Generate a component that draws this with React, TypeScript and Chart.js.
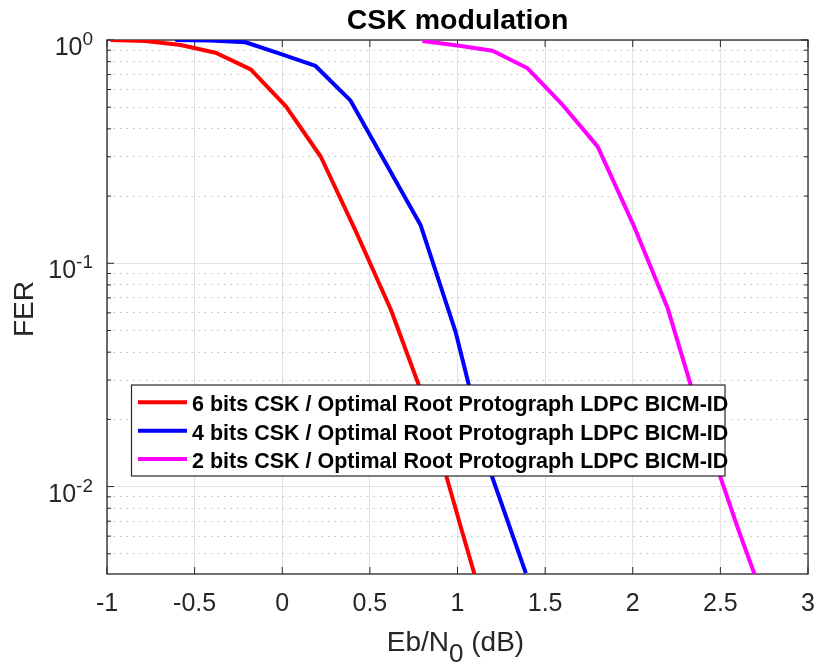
import React, { useEffect, useRef } from 'react';
import { Chart, registerables } from 'chart.js';

Chart.register(...registerables);

const TITLE = 'CSK modulation';
const X_TITLE_MAIN = 'Eb/N';
const X_TITLE_SUB = '0';
const X_TITLE_END = ' (dB)';
const Y_TITLE = 'FER';

const SERIES_LABELS = [
  '6 bits CSK / Optimal Root Protograph LDPC BICM-ID',
  '4 bits CSK / Optimal Root Protograph LDPC BICM-ID',
  '2 bits CSK / Optimal Root Protograph LDPC BICM-ID',
];
const SERIES_COLORS = ['#ff0000', '#0000ff', '#ff00ff'];

const X_MIN = -1;
const X_MAX = 3;
const Y_MIN = 0.00406;
const Y_MAX = 1;

const X_TICKS = [-1, -0.5, 0, 0.5, 1, 1.5, 2, 2.5, 3];
const X_TICK_LABELS = ['-1', '-0.5', '0', '0.5', '1', '1.5', '2', '2.5', '3'];
const Y_MAJOR_TICKS = [1, 0.1, 0.01];
const Y_MAJOR_EXPONENTS = ['0', '-1', '-2'];
const Y_MINOR_TICKS = [
  0.9, 0.8, 0.7, 0.6, 0.5, 0.4, 0.3, 0.2,
  0.09, 0.08, 0.07, 0.06, 0.05, 0.04, 0.03, 0.02,
  0.009, 0.008, 0.007, 0.006, 0.005,
];

// 6 bits CSK
const csk6X = [-0.98, -0.78, -0.58, -0.38, -0.18, 0.02, 0.22, 0.42, 0.62, 0.82, 1.02, 1.22];
const csk6Y = [1.0, 0.99, 0.95, 0.877, 0.739, 0.506, 0.300, 0.139, 0.0619, 0.0233, 0.00654, 0.00188];

// 4 bits CSK
const csk4X = [-0.61, -0.41, -0.21, -0.01, 0.19, 0.39, 0.59, 0.79, 0.99, 1.19, 1.39];
const csk4Y = [1.0, 0.995, 0.977, 0.866, 0.765, 0.535, 0.281, 0.148, 0.049, 0.0115, 0.0041];

// 2 bits CSK
const csk2X = [0.8, 1.0, 1.2, 1.4, 1.6, 1.8, 2.0, 2.2, 2.4, 2.6, 2.8];
const csk2Y = [0.99, 0.945, 0.895, 0.747, 0.512, 0.333, 0.151, 0.0627, 0.0188, 0.0065, 0.0024];

const SERIES_X = [csk6X, csk4X, csk2X];
const SERIES_Y = [csk6Y, csk4Y, csk2Y];

const FONT = '"Liberation Sans", Arial, Helvetica, sans-serif';
const TEXT_COLOR = '#262626';

const decorPlugin = {
  id: 'matlabDecor',
  beforeDatasetsDraw(chart: any) {
    const { ctx, chartArea: a, scales } = chart;
    const xs = scales.x;
    const ys = scales.y;
    ctx.save();
    ctx.strokeStyle = TEXT_COLOR;
    ctx.lineWidth = 1;
    ctx.beginPath();
    for (const v of X_TICKS) {
      const px = xs.getPixelForValue(v);
      ctx.moveTo(px, a.bottom);
      ctx.lineTo(px, a.bottom - 7);
      ctx.moveTo(px, a.top);
      ctx.lineTo(px, a.top + 7);
    }
    for (const v of Y_MAJOR_TICKS) {
      const py = ys.getPixelForValue(v);
      ctx.moveTo(a.left, py);
      ctx.lineTo(a.left + 7, py);
      ctx.moveTo(a.right, py);
      ctx.lineTo(a.right - 7, py);
    }
    for (const v of Y_MINOR_TICKS) {
      const py = ys.getPixelForValue(v);
      ctx.moveTo(a.left, py);
      ctx.lineTo(a.left + 4, py);
      ctx.moveTo(a.right, py);
      ctx.lineTo(a.right - 4, py);
    }
    ctx.stroke();
    ctx.lineWidth = 1.3;
    ctx.strokeRect(a.left, a.top, a.right - a.left, a.bottom - a.top);
    ctx.restore();
  },
  afterDraw(chart: any) {
    const { ctx, chartArea: a, scales } = chart;
    const xs = scales.x;
    const ys = scales.y;
    const cx = (a.left + a.right) / 2;
    ctx.save();

    // Title
    ctx.fillStyle = '#000';
    ctx.font = `bold 28.5px ${FONT}`;
    ctx.textAlign = 'center';
    ctx.textBaseline = 'alphabetic';
    ctx.fillText(TITLE, cx, 29);

    // X tick labels
    ctx.fillStyle = TEXT_COLOR;
    ctx.font = `25px ${FONT}`;
    X_TICKS.forEach((v, i) => {
      ctx.fillText(X_TICK_LABELS[i], xs.getPixelForValue(v), a.bottom + 37);
    });

    // Y tick labels 10^n
    ctx.textAlign = 'right';
    Y_MAJOR_TICKS.forEach((v, i) => {
      const py = ys.getPixelForValue(v);
      const rx = a.left - 14;
      ctx.font = `19px ${FONT}`;
      const wSup = ctx.measureText(Y_MAJOR_EXPONENTS[i]).width;
      ctx.fillText(Y_MAJOR_EXPONENTS[i], rx, py + 5);
      ctx.font = `25px ${FONT}`;
      ctx.fillText('10', rx - wSup, py + 15);
    });

    // X title with subscript
    ctx.textAlign = 'left';
    ctx.font = `28px ${FONT}`;
    const w1 = ctx.measureText(X_TITLE_MAIN).width;
    const w3 = ctx.measureText(X_TITLE_END).width;
    ctx.font = `26px ${FONT}`;
    const w2 = ctx.measureText(X_TITLE_SUB).width;
    const total = w1 + w2 + w3;
    const sx = cx - 2 - total / 2;
    const base = 651;
    ctx.font = `28px ${FONT}`;
    ctx.fillText(X_TITLE_MAIN, sx, base);
    ctx.font = `26px ${FONT}`;
    ctx.fillText(X_TITLE_SUB, sx + w1, base + 11);
    ctx.font = `28px ${FONT}`;
    ctx.fillText(X_TITLE_END, sx + w1 + w2, base);

    // Y title
    ctx.save();
    ctx.translate(33, (a.top + a.bottom) / 2 + 2);
    ctx.rotate(-Math.PI / 2);
    ctx.textAlign = 'center';
    ctx.font = `28px ${FONT}`;
    ctx.fillText(Y_TITLE, 0, 0);
    ctx.restore();

    // Legend
    const lx = 131.5, ly = 385, lw = 593.5, lh = 91;
    ctx.fillStyle = '#fff';
    ctx.fillRect(lx, ly, lw, lh);
    ctx.strokeStyle = TEXT_COLOR;
    ctx.lineWidth = 1.2;
    ctx.strokeRect(lx, ly, lw, lh);
    const rows = [402.3, 430.7, 459];
    SERIES_LABELS.forEach((lab, i) => {
      const ry = rows[i];
      ctx.strokeStyle = SERIES_COLORS[i];
      ctx.lineWidth = 4;
      ctx.beginPath();
      ctx.moveTo(138, ry);
      ctx.lineTo(187, ry);
      ctx.stroke();
      ctx.fillStyle = '#000';
      ctx.font = `bold 21.5px ${FONT}`;
      ctx.textAlign = 'left';
      ctx.textBaseline = 'alphabetic';
      ctx.fillText(lab, 192, ry + 9);
    });

    ctx.restore();
  },
};

export default function App() {
  const canvasRef = useRef<HTMLCanvasElement | null>(null);

  useEffect(() => {
    const canvas = canvasRef.current;
    if (!canvas) return;
    const datasets = SERIES_LABELS.map((label, i) => ({
      label,
      data: SERIES_X[i].map((x, j) => ({ x, y: SERIES_Y[i][j] })),
      borderColor: SERIES_COLORS[i],
      backgroundColor: SERIES_COLORS[i],
      borderWidth: 4,
      pointRadius: 0,
      tension: 0,
      fill: false,
      clip: 0,
      borderJoinStyle: 'round' as const,
    }));

    const chart = new Chart(canvas, {
      type: 'line',
      data: { datasets },
      options: {
        animation: false,
        responsive: false,
        devicePixelRatio: 1,
        parsing: false as any,
        layout: { padding: { top: 40, right: 11, left: 0, bottom: 0 } },
        plugins: {
          legend: { display: false },
          title: { display: false },
          tooltip: { enabled: false },
        },
        scales: {
          x: {
            type: 'linear',
            position: 'bottom',
            min: X_MIN,
            max: X_MAX,
            afterBuildTicks: (scale: any) => {
              scale.ticks = X_TICKS.map((v) => ({ value: v }));
            },
            afterFit: (scale: any) => {
              scale.height = 93;
            },
            ticks: { display: false },
            grid: { color: '#e2e2e2', lineWidth: 1, drawTicks: false },
            border: { display: false },
          },
          y: {
            type: 'logarithmic',
            position: 'left',
            min: Y_MIN,
            max: Y_MAX,
            afterBuildTicks: (scale: any) => {
              const all = [...Y_MAJOR_TICKS, ...Y_MINOR_TICKS].sort((p, q) => p - q);
              scale.ticks = all.map((v) => ({ value: v, major: Y_MAJOR_TICKS.includes(v) }));
            },
            afterFit: (scale: any) => {
              scale.width = 107;
            },
            ticks: { display: false },
            grid: {
              drawTicks: false,
              lineWidth: 1,
              color: (c: any) => (c.tick && c.tick.major ? '#e2e2e2' : 'rgba(38,38,38,0.28)'),
            },
            border: {
              display: false,
              dash: (c: any) => (c.tick && !c.tick.major ? [1.5, 5] : []),
            } as any,
          },
        },
      },
      plugins: [decorPlugin],
    });
    return () => chart.destroy();
  }, []);

  return (
    <div style={{ position: 'absolute', left: 0, top: 0, width: 819, height: 667, background: '#fff' }}>
      <canvas ref={canvasRef} width={819} height={667} style={{ display: 'block' }} />
    </div>
  );
}
